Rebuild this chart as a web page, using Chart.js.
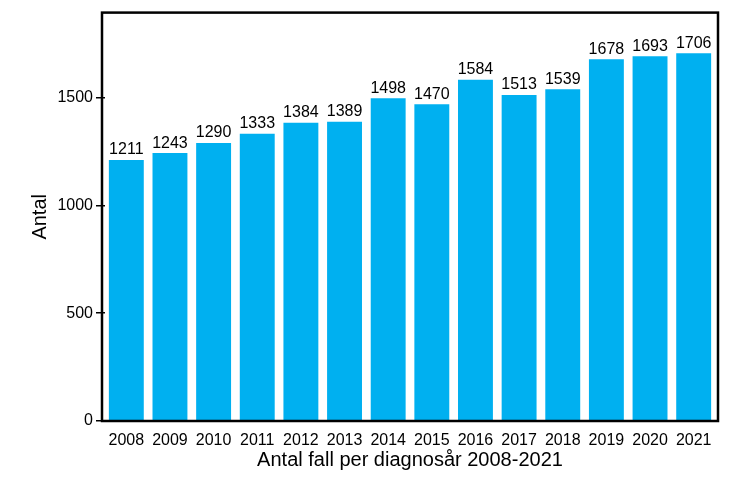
<!DOCTYPE html>
<html>
<head>
<meta charset="utf-8">
<script src="https://cdn.jsdelivr.net/npm/chart.js@4"></script>
<style>
  body { margin: 0; background: #fff; }
  #wrap { width: 750px; height: 481px; }
</style>
</head>
<body>
<div id="wrap"><canvas id="graf"></canvas></div>
<script>
const years = ['2008','2009','2010','2011','2012','2013','2014','2015','2016','2017','2018','2019','2020','2021']
const antal = [1211,1243,1290,1333,1384,1389,1498,1470,1584,1513,1539,1678,1693,1706]
const yTicks = [0,500,1000,1500]

const font = 'Liberation Sans, Arial, sans-serif'

// value labels above bars
const etiketter = {
  id: 'etiketter',
  afterDatasetsDraw(chart) {
    const ctx = chart.ctx
    const meta = chart.getDatasetMeta(0)
    ctx.save()
    ctx.font = '16px ' + font
    ctx.fillStyle = '#000'
    ctx.textAlign = 'center'
    ctx.textBaseline = 'bottom'
    meta.data.forEach((bar, i) => {
      ctx.fillText(antal[i], bar.x, bar.y - 2)
    })
    ctx.restore()
  }
}

// black frame round the plot area (a little wider than the bar area)
const ram = {
  id: 'ram',
  afterDraw(chart) {
    const a = chart.chartArea
    const ctx = chart.ctx
    ctx.save()
    ctx.strokeStyle = '#000'
    ctx.lineWidth = 2.5
    ctx.strokeRect(a.left - 2.5, a.top, a.right - a.left + 5, a.bottom - a.top)
    ctx.restore()
  }
}

new Chart(document.getElementById('graf'), {
  type: 'bar',
  data: {
    labels: years,
    datasets: [{
      data: antal,
      backgroundColor: '#00B0F0',
      categoryPercentage: 0.8,
      barPercentage: 1.0
    }]
  },
  options: {
    responsive: true,
    maintainAspectRatio: false,
    animation: false,
    layout: { padding: { top: 12, right: 34.5, bottom: 4, left: 24 } },
    plugins: { legend: { display: false }, tooltip: { enabled: false } },
    scales: {
      x: {
        grid: { display: false },
        border: { display: false },
        ticks: { color: '#000', font: { family: font, size: 16 }, padding: 2, maxRotation: 0 },
        title: { display: true, text: 'Antal fall per diagnosår 2008-2021', color: '#000', font: { family: font, size: 20 }, padding: { top: 0, bottom: 5 } },
        afterFit(s) { s.height = 56 }
      },
      y: {
        min: 0,
        max: 1895,
        afterBuildTicks(s) { s.ticks = yTicks.map(v => ({ value: v })) },
        grid: { drawOnChartArea: false, drawTicks: true, tickLength: 8.5, color: '#000', lineWidth: 1.5 },
        border: { display: false },
        ticks: { color: '#000', font: { family: font, size: 16 }, padding: 3, callback: v => String(v) },
        title: { display: true, text: 'Antal', color: '#000', font: { family: font, size: 20 }, padding: { bottom: 6 } },
        afterFit(s) { s.width = 80.5 }
      }
    }
  },
  plugins: [etiketter, ram]
})
</script>
</body>
</html>
